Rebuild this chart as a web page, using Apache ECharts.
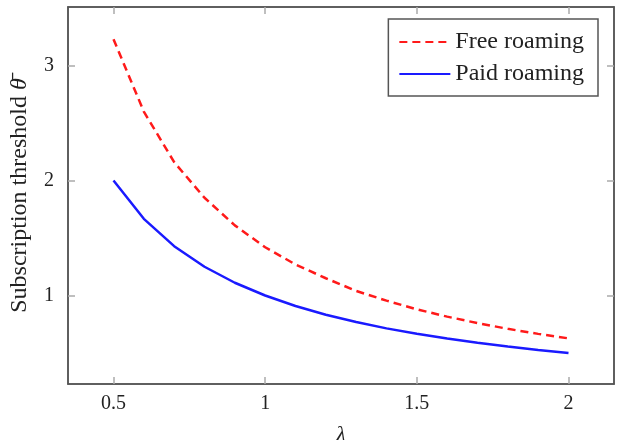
<!DOCTYPE html>
<html>
<head>
<meta charset="utf-8">
<script src="https://cdn.jsdelivr.net/npm/echarts@6/dist/echarts.min.js"></script>
<style>
  html, body { margin: 0; padding: 0; background: #fff; }
  #chart { width: 628px; height: 440px; }
</style>
</head>
<body>
<div id="chart"></div>
<script>
const lambdas = [0.5, 0.6, 0.7, 0.8, 0.9, 1.0, 1.1, 1.2, 1.3, 1.4, 1.5, 1.6, 1.7, 1.8, 1.9, 2.0];
const freeRoaming = [3.23, 2.60, 2.16, 1.85, 1.61, 1.42, 1.27, 1.15, 1.04, 0.955, 0.88, 0.816, 0.76, 0.71, 0.666, 0.627];
const paidRoaming = [2.0, 1.667, 1.429, 1.25, 1.111, 1.0, 0.909, 0.833, 0.769, 0.714, 0.667, 0.625, 0.588, 0.556, 0.526, 0.5];
const xTicks = [0.5, 1, 1.5, 2];
const yTicks = [1, 2, 3];

const FONT = '"Liberation Serif", "DejaVu Serif", serif';
const axisColor = '#555';
const tickColor = '#aaa';

const chart = echarts.init(document.getElementById('chart'));

function zip(xs, ys) {
  return xs.map((x, i) => [x, ys[i]]);
}

const tickStyle = {
  show: true,
  inside: true,
  length: 7,
  lineStyle: { color: tickColor, width: 1.5 },
};

const option = {
  animation: false,
  grid: {
    left: 68,
    right: 14,
    top: 7,
    bottom: 56,
    containLabel: false,
    outerBoundsMode: 'none',
    show: true,
    borderColor: axisColor,
    borderWidth: 1.5,
    backgroundColor: 'transparent',
  },
  legend: {
    right: 30,
    top: 19,
    orient: 'vertical',
    itemWidth: 51,
    itemHeight: 14,
    itemGap: 8,
    padding: [11, 14, 10, 10],
    borderColor: axisColor,
    borderWidth: 1.5,
    // hide the symbol dot, keep the line sample
    itemStyle: { opacity: 0 },
    textStyle: { fontFamily: FONT, fontSize: 24, color: '#222' },
    data: ['Free roaming', 'Paid roaming'],
  },
  xAxis: [
    {
      type: 'value',
      min: 0.35,
      max: 2.15,
      position: 'bottom',
      axisLine: { show: true, onZero: false, lineStyle: { color: axisColor, width: 1.5 } },
      splitLine: { show: false },
      axisTick: Object.assign({ customValues: xTicks }, tickStyle),
      axisLabel: {
        customValues: xTicks,
        fontFamily: FONT,
        fontSize: 20,
        color: '#222',
        margin: 10,
      },
      name: 'λ',
      nameLocation: 'middle',
      nameGap: 40,
      nameTextStyle: { fontFamily: FONT, fontSize: 22, fontStyle: 'italic', color: '#222' },
    },
    {
      type: 'value',
      min: 0.35,
      max: 2.15,
      position: 'top',
      axisLine: { show: true, onZero: false, lineStyle: { color: axisColor, width: 1.5 } },
      splitLine: { show: false },
      axisTick: Object.assign({ customValues: xTicks }, tickStyle),
      axisLabel: { show: false },
    },
  ],
  yAxis: [
    {
      type: 'value',
      min: 0.23,
      max: 3.51,
      position: 'left',
      axisLine: { show: true, onZero: false, lineStyle: { color: axisColor, width: 1.5 } },
      splitLine: { show: false },
      axisTick: Object.assign({ customValues: yTicks }, tickStyle),
      axisLabel: {
        customValues: yTicks,
        fontFamily: FONT,
        fontSize: 20,
        color: '#222',
        margin: 14,
      },
      name: '{a|Subscription threshold }{b|θ̄}',
      nameLocation: 'middle',
      nameGap: 36,
      nameTextStyle: {
        rich: {
          a: { fontFamily: FONT, fontSize: 24, color: '#222' },
          b: { fontFamily: FONT, fontSize: 24, fontStyle: 'italic', color: '#222' },
        },
      },
    },
    {
      type: 'value',
      min: 0.23,
      max: 3.51,
      position: 'right',
      axisLine: { show: true, onZero: false, lineStyle: { color: axisColor, width: 1.5 } },
      splitLine: { show: false },
      axisTick: Object.assign({ customValues: yTicks }, tickStyle),
      axisLabel: { show: false },
    },
  ],
  series: [
    {
      name: 'Free roaming',
      type: 'line',
      data: zip(lambdas, freeRoaming),
      showSymbol: false,
      symbol: 'none',
      lineStyle: { color: '#ff1a1a', width: 2.5, type: [8, 5] },
      itemStyle: { color: '#ff1a1a' },
    },
    {
      name: 'Paid roaming',
      type: 'line',
      data: zip(lambdas, paidRoaming),
      showSymbol: false,
      symbol: 'none',
      lineStyle: { color: '#1a1aff', width: 2.5 },
      itemStyle: { color: '#1a1aff' },
    },
  ],
};

chart.setOption(option);
</script>
</body>
</html>
